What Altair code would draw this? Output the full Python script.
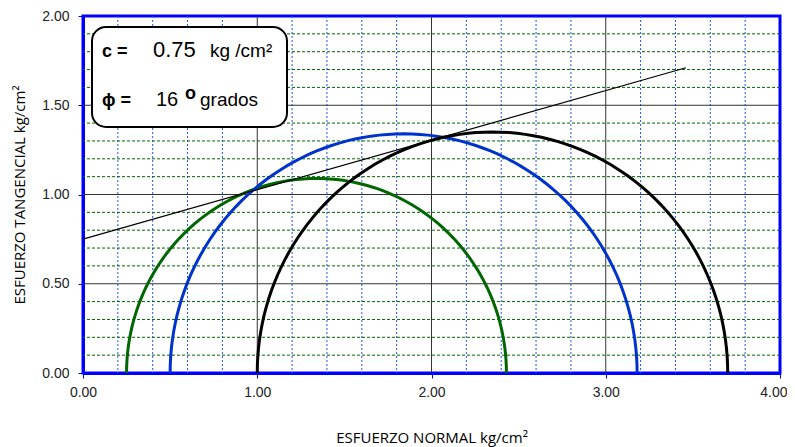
import altair as alt
import pandas as pd
import numpy as np

# Mohr circles (sigma3, sigma1) in kg/cm2
sigma3 = [0.25, 0.50, 1.00]
sigma1 = [2.43, 3.18, 3.70]
circle_names = ["Ensayo 1", "Ensayo 2", "Ensayo 3"]
circle_colors = ["#006600", "#0033cc", "#000000"]

# Failure envelope endpoints
env_x = [0.0, 3.46]
env_y = [0.75, 1.71]

# Grid positions
major_x = [1.0, 2.0, 3.0]
major_y = [0.5, 1.0, 1.5]
minor_x = [0.2, 0.4, 0.6, 0.8, 1.2, 1.4, 1.6, 1.8, 2.2, 2.4, 2.6, 2.8,
           3.2, 3.4, 3.6, 3.8]
minor_y = [0.1, 0.2, 0.3, 0.4, 0.6, 0.7, 0.8, 0.9, 1.1, 1.2, 1.3, 1.4,
           1.6, 1.7, 1.8, 1.9]
x_ticks = [0, 1, 2, 3, 4]
y_ticks = [0, 0.5, 1.0, 1.5, 2.0]

# build circle polylines from centre/radius
rows = []
angles = np.linspace(np.pi, 0, 91)
for name, s3, s1 in zip(circle_names, sigma3, sigma1):
    c = (s1 + s3) / 2
    r = (s1 - s3) / 2
    for i, a in enumerate(angles):
        rows.append({"name": name, "ord": i, "x": c + r * np.cos(a), "y": r * np.sin(a)})
circ = pd.DataFrame(rows)

xs = alt.Scale(domain=[0, 4], nice=False, zero=False)
ys = alt.Scale(domain=[0, 2], nice=False, zero=False)

xaxis = alt.Axis(values=x_ticks, format=".2f", title="ESFUERZO NORMAL kg/cm²",
                 grid=False, titlePadding=31, labelPadding=7, labelFlush=False,
                 labelAlign={"expr": "datum.value >= 4 ? 'right' : 'center'"},
                 labelOffset={"expr": "datum.value >= 4 ? 7 : 0"})
yaxis = alt.Axis(values=y_ticks, format=".2f", title="ESFUERZO TANGENCIAL kg/cm²",
                 grid=False, titlePadding=14, labelPadding=9, labelFlush=False)

def X(f):
    return alt.X(f, type="quantitative", scale=xs, axis=xaxis)

def Y(f):
    return alt.Y(f, type="quantitative", scale=ys, axis=yaxis)

minor_v = alt.Chart(pd.DataFrame({"x": minor_x})).mark_rule(
    color="#2255dd", strokeWidth=1, strokeDash=[2, 2]).encode(x=X("x"))
minor_h = alt.Chart(pd.DataFrame({"y": minor_y})).mark_rule(
    color="#006600", strokeWidth=1, strokeDash=[3, 2]).encode(y=Y("y"))
major_v = alt.Chart(pd.DataFrame({"x": major_x})).mark_rule(
    color="#333333", strokeWidth=1).encode(x=X("x"))
major_h = alt.Chart(pd.DataFrame({"y": major_y})).mark_rule(
    color="#333333", strokeWidth=1).encode(y=Y("y"))

env = alt.Chart(pd.DataFrame({"x": env_x, "y": env_y})).mark_line(
    color="black", strokeWidth=1.2).encode(x=X("x"), y=Y("y"))

circles = alt.Chart(circ).mark_line(strokeWidth=3, clip=True).encode(
    x=X("x"), y=Y("y"),
    order="ord:Q",
    color=alt.Color("name:N", scale=alt.Scale(domain=circle_names, range=circle_colors),
                    legend=None))

one = pd.DataFrame({"a": [0]})
box = alt.Chart(one).mark_rect(fill="white", stroke="black", strokeWidth=2,
                               cornerRadius=14).encode(
    x=alt.value(9), x2=alt.value(204), y=alt.value(11), y2=alt.value(111))

def txt(s, x, y, size, bold=False):
    return alt.Chart(one).mark_text(text=s, align="left", baseline="alphabetic",
                                    font="Liberation Sans", fontSize=size,
                                    fontWeight="bold" if bold else "normal",
                                    color="black").encode(x=alt.value(x), y=alt.value(y))

texts = [
    txt("c =", 19, 41, 18, True),
    txt("0.75", 70, 41, 22),
    txt("kg /cm²", 127, 41, 19),
    txt("ϕ =", 19, 90, 18, True),
    txt("16", 73, 90, 20),
    txt("o", 102, 83, 18, True),
    txt("grados", 117, 90, 19),
]

chart = alt.layer(minor_v, minor_h, major_v, major_h, circles, env, box, *texts).properties(
    width=697, height=357,
    autosize=alt.AutoSizeParams(type="none"),
    padding={"left": 75, "top": 8, "right": 7, "bottom": 74},
).configure_view(stroke="#0000ff", strokeWidth=3).configure_axis(
    domainColor="#0000ff", domainWidth=3, tickColor="#0000ff", tickSize=5,
    labelFont="Liberation Sans", labelFontSize=14, labelColor="#222222",
    titleFont="Open Sans", titleFontSize=15, titleFontWeight="normal", titleColor="black",
)

chart.save("out.html", embed_options={"renderer": "svg", "actions": False})
